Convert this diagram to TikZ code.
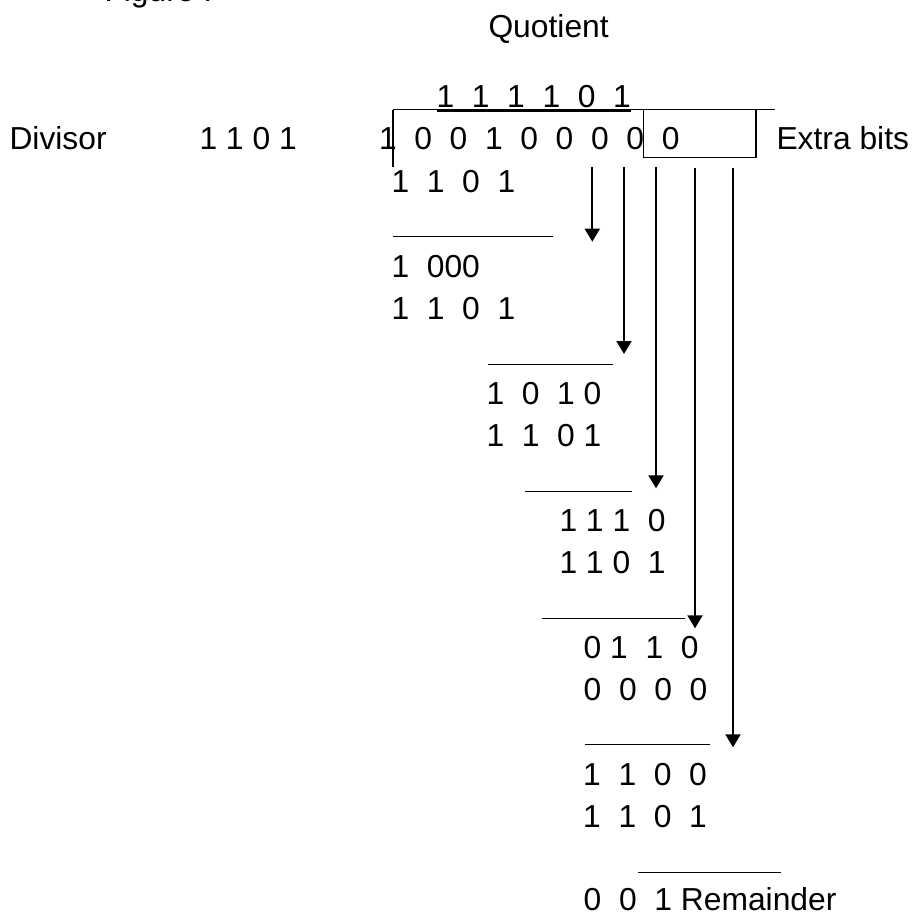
\documentclass[tikz,border=0pt]{standalone}
\usepackage{fontspec}
\setmainfont{Liberation Sans}
\usetikzlibrary{arrows.meta}
\begin{document}
\begin{tikzpicture}[x=1pt,y=-1pt,
  txt/.style={anchor=base west,inner sep=0pt,outer sep=0pt,font=\fontsize{31.8}{38}\selectfont},
  rule/.style={line width=1.1pt},
  bar/.style={line width=1.6pt},
  ul/.style={line width=3pt},
  arr/.style={line width=2pt,-{Triangle[length=13pt,width=15pt]}},
  xbox/.style={draw,line width=1.4pt,inner sep=0pt,outer sep=0pt}]
\useasboundingbox (0,0) rectangle (914,913);
% texts
\node[txt] (fig) at (104.5,1.5) {Figure :};
\node[txt] (quot) at (488.5,37) {Quotient};
\node[txt] (qdig) at (436.5,107) {1~~1~~1~~1~~0~~1};
\node[txt] (divl) at (9.5,149.5) {Divisor};
\node[txt] (divs) at (199.5,149.5) {1~1~0~1};
\node[txt] (dvd) at (379,149.5) {1~~0~~0~~1~~0~~0~~0~~0~~0};
\node[txt] (extra) at (776.5,149.5) {Extra bits};
\node[txt] (r1) at (391.5,192) {1~~1~~0~~1};
\node[txt] (r2) at (391.5,277) {1~~000};
\node[txt] (r3) at (391.5,319) {1~~1~~0~~1};
\node[txt] (r4) at (486.5,404) {1~~0~~1~0};
\node[txt] (r5) at (486.5,446) {1~~1~~0~1};
\node[txt] (r6) at (559.5,531) {1~1~1~~0};
\node[txt] (r7) at (559.5,573) {1~1~0~~1};
\node[txt] (r8) at (583.7,658) {0~1~~1~~0};
\node[txt] (r9) at (583.7,700) {0~~0~~0~~0};
\node[txt] (r10) at (583.2,785) {1~~1~~0~~0};
\node[txt] (r11) at (583.2,827) {1~~1~~0~~1};
\node[txt] (r12) at (583.7,910) {0~~0~~1~Remainder};
% quotient underline
\draw[ul] ([yshift=-3.7pt]qdig.base west) -- ([yshift=-3.7pt]qdig.base east);
% division bracket
\coordinate (tl) at (392.7,109.5);
\coordinate (tr) at (775,109.5);
\coordinate (bl) at (392.7,166.7);
\draw[rule] (tl) -- (tr);
\draw[bar] (tl) -- (bl);
% extra bits box
\node[xbox,minimum width=112.7pt,minimum height=47.8pt] (eb) at (699.6,133.4) {};
% dividers
\coordinate (d1a) at (392.7,236.7); \coordinate (d1b) at (553.3,236.7);
\coordinate (d2a) at (488.3,364.3); \coordinate (d2b) at (613.3,364.3);
\coordinate (d3a) at (525,491.7);   \coordinate (d3b) at (631.7,491.7);
\coordinate (d4a) at (541.7,618.3); \coordinate (d4b) at (685,618.3);
\coordinate (d5a) at (585,744.3);   \coordinate (d5b) at (710,744.3);
\coordinate (d6a) at (638.3,872.3); \coordinate (d6b) at (780.7,872.3);
\draw[rule] (d1a) -- (d1b);
\draw[rule] (d2a) -- (d2b);
\draw[rule] (d3a) -- (d3b);
\draw[rule] (d4a) -- (d4b);
\draw[rule] (d5a) -- (d5b);
\draw[rule] (d6a) -- (d6b);
% bring-down arrows
\coordinate (a1s) at (592.3,166.7); \coordinate (a1e) at (592.3,241.7);
\coordinate (a2s) at (624,166.7);   \coordinate (a2e) at (624,354);
\coordinate (a3s) at (656,166.7);   \coordinate (a3e) at (656,488.3);
\coordinate (a4s) at (695,168.3);   \coordinate (a4e) at (695,628.3);
\coordinate (a5s) at (733,168.3);   \coordinate (a5e) at (733,747.3);
\draw[arr] (a1s) -- (a1e);
\draw[arr] (a2s) -- (a2e);
\draw[arr] (a3s) -- (a3e);
\draw[arr] (a4s) -- (a4e);
\draw[arr] (a5s) -- (a5e);
\end{tikzpicture}
\end{document}
